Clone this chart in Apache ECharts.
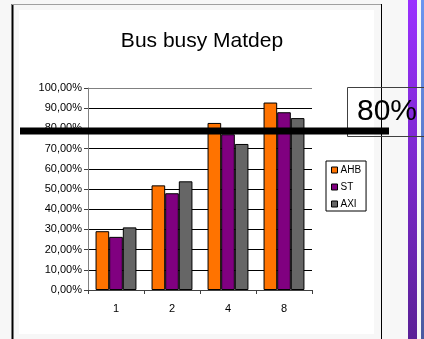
<!DOCTYPE html>
<html>
<head>
<meta charset="utf-8">
<script src="https://cdn.jsdelivr.net/npm/echarts@6/dist/echarts.min.js"></script>
<style>
  html, body { margin: 0; padding: 0; background: #f7f7f7; }
  #chart { width: 424px; height: 339px; }
</style>
</head>
<body>
<div id="chart"></div>
<script>
// Bus occupancy per number of masters, for the three bus types
const categories = ['1', '2', '4', '8'];
const ahb = [29.1, 51.8, 82.7, 92.8];
const st = [26.3, 47.9, 77.1, 88.0];
const axi = [31.0, 53.8, 72.3, 85.1];
const seriesNames = ['AHB', 'ST', 'AXI'];
const seriesColors = ['#ff7300', '#800080', '#666666'];
const threshold = 78.7;
const thresholdLabel = '80%';
const titleText = 'Bus busy Matdep';

const font = '"Liberation Sans", Arial, sans-serif';
const chart = echarts.init(document.getElementById('chart'), null, { renderer: 'canvas' });

const fmtPct = v => v.toFixed(2).replace('.', ',') + '%';

// gridline colours: the top line acts as the plot-area border
const splitColors = [];
for (let i = 0; i < 11; i++) splitColors.push(i === 10 ? '#808080' : '#000000');

const values = [ahb, st, axi];

chart.setOption({
  backgroundColor: '#f7f7f7',
  animation: false,
  title: {
    text: titleText,
    left: 197,
    textAlign: 'center',
    top: 26,
    textStyle: { fontFamily: font, fontSize: 21, fontWeight: 'normal', color: '#000' }
  },
  legend: {
    orient: 'vertical',
    left: 326,
    top: 161,
    padding: [4, 5, 2, 5],
    itemGap: 7,
    itemWidth: 6,
    itemHeight: 6,
    icon: 'rect',
    itemStyle: { borderColor: '#000', borderWidth: 1 },
    borderColor: '#000',
    borderWidth: 1,
    backgroundColor: '#fff',
    textStyle: { fontFamily: font, fontSize: 10, color: '#000', padding: [0, 0, 0, -2] },
    data: seriesNames
  },
  grid: { left: 88, right: 112, top: 88, bottom: 49, containLabel: false },
  xAxis: {
    type: 'category',
    data: categories,
    axisLine: { lineStyle: { color: '#404040', width: 1 } },
    axisTick: { show: true, length: 4, lineStyle: { color: '#404040' } },
    axisLabel: { fontFamily: font, fontSize: 11, color: '#000', margin: 13 }
  },
  yAxis: {
    type: 'value',
    min: 0,
    max: 100,
    interval: 10,
    axisLine: { show: true, lineStyle: { color: '#808080', width: 1 } },
    axisTick: { show: true, length: 4, lineStyle: { color: '#404040' } },
    axisLabel: { fontFamily: font, fontSize: 11, color: '#000', margin: 6, formatter: fmtPct },
    splitLine: { show: true, lineStyle: { color: splitColors, width: 1 } }
  },
  series: seriesNames.map((name, i) => ({
    name: name,
    type: 'bar',
    data: values[i],
    barGap: '0%',
    barCategoryGap: '27%',
    itemStyle: { color: seriesColors[i], borderColor: '#000', borderWidth: 1 },
    z: 3
  }))
});

// frame, side strips and the threshold annotation
const yLine = chart.convertToPixel({ yAxisIndex: 0 }, threshold);
chart.setOption({
  graphic: [
    { type: 'rect', z: -20, shape: { x: 19, y: 10, width: 355, height: 324 }, style: { fill: '#ffffff' }, silent: true },
    { type: 'line', z: 50, shape: { x1: 12.5, y1: 4, x2: 12.5, y2: 339 }, style: { stroke: '#000', lineWidth: 2 } },
    { type: 'line', z: 50, shape: { x1: 12, y1: 4.5, x2: 382, y2: 4.5 }, style: { stroke: '#a0a0a0', lineWidth: 1 } },
    { type: 'line', z: 50, shape: { x1: 381.5, y1: 4, x2: 381.5, y2: 339 }, style: { stroke: '#000', lineWidth: 1 } },
    {
      type: 'rect', z: 40, shape: { x: 408, y: 0, width: 9, height: 339 },
      style: { fill: new echarts.graphic.LinearGradient(0, 0, 0, 1, [
        { offset: 0, color: '#9a30ff' }, { offset: 1, color: '#5a2096' }
      ]) }
    },
    {
      type: 'rect', z: 40, shape: { x: 421, y: 0, width: 3, height: 339 },
      style: { fill: new echarts.graphic.LinearGradient(0, 0, 0, 1, [
        { offset: 0, color: '#6a96f0' }, { offset: 1, color: '#4a5aa0' }
      ]) }
    },
    { type: 'rect', z: 60, shape: { x: 347.5, y: 87.5, width: 90, height: 49 }, style: { fill: 'transparent', stroke: '#404040', lineWidth: 1 } },
    { type: 'text', z: 61, style: { x: 357, y: 112, text: thresholdLabel, font: '30px ' + font, fill: '#000', textVerticalAlign: 'middle' } },
    { type: 'line', z: 70, shape: { x1: 20, y1: yLine, x2: 389, y2: yLine }, style: { stroke: '#000', lineWidth: 7 } }
  ]
});
</script>
</body>
</html>
